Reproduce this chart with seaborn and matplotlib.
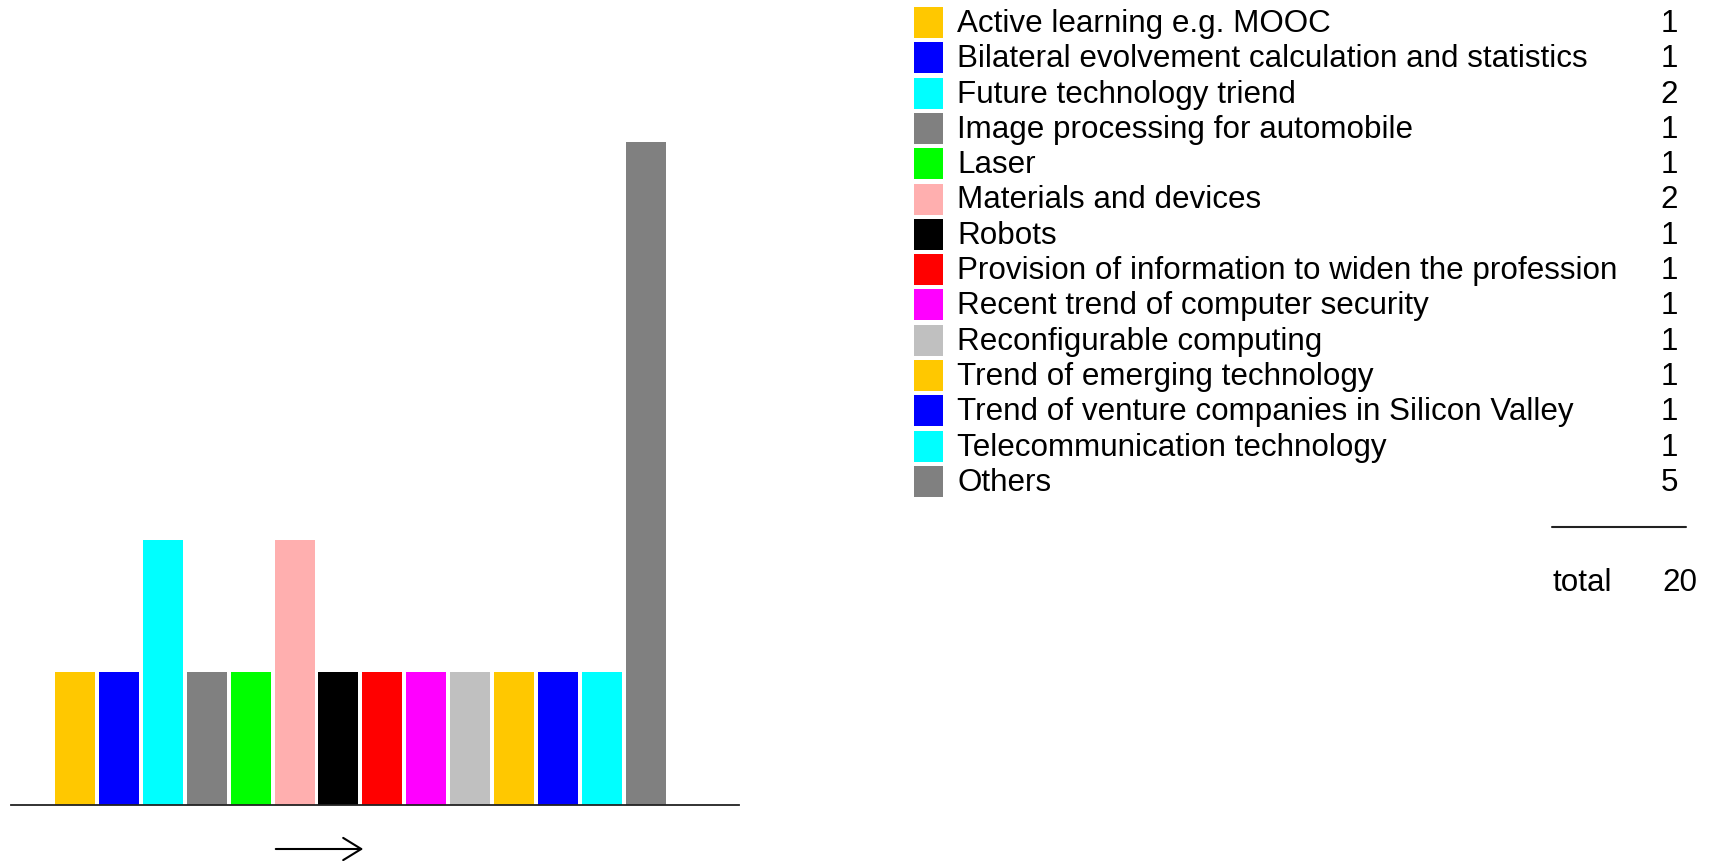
import matplotlib
matplotlib.use("Agg")
import matplotlib.pyplot as plt
from matplotlib.patches import Rectangle, FancyArrowPatch
import seaborn as sns
import pandas as pd

# Topics and how many times each one was chosen
topics = [
    "Active learning e.g. MOOC",
    "Bilateral evolvement calculation and statistics",
    "Future technology triend",
    "Image processing for automobile",
    "Laser",
    "Materials and devices",
    "Robots",
    "Provision of information to widen the profession",
    "Recent trend of computer security",
    "Reconfigurable computing",
    "Trend of emerging technology",
    "Trend of venture companies in Silicon Valley",
    "Telecommunication technology",
    "Others",
]
counts = [1, 1, 2, 1, 1, 2, 1, 1, 1, 1, 1, 1, 1, 5]
colors = [
    "#FFC800", "#0000FF", "#00FFFF", "#808080", "#00FF00", "#FFAFAF", "#000000",
    "#FF0000", "#FF00FF", "#C0C0C0", "#FFC800", "#0000FF", "#00FFFF", "#808080",
]
total_label = "total"

sns.set_theme(style="white")
plt.rcParams["font.family"] = ["Liberation Sans", "DejaVu Sans"]

W, H, DPI = 1710, 861, 100
fig = plt.figure(figsize=(W / DPI, H / DPI), dpi=DPI)
fig.patch.set_facecolor("white")

df = pd.DataFrame({"topic": topics, "count": counts})

# Bar chart area (left side)
ax = fig.add_axes([11 / W, 56 / H, 728 / W, 729 / H])
sns.barplot(data=df, x="topic", y="count", hue="topic", palette=colors,
            order=topics, hue_order=topics, dodge=False, legend=False,
            width=0.91, saturation=1, linewidth=0, ax=ax)
ax.set_xlim(-1.449, 15.11)
ax.set_ylim(0, 5.5)
ax.set_xticks([])
ax.set_yticks([])
ax.set_xlabel("")
ax.set_ylabel("")
for side in ["top", "left", "right"]:
    ax.spines[side].set_visible(False)
ax.spines["bottom"].set_color("#222222")
ax.spines["bottom"].set_linewidth(1.3)
ax.patch.set_alpha(0)

# Direction arrow under the bars
fig.add_artist(FancyArrowPatch(
    (273, H - 849), (366, H - 849), transform=None,
    arrowstyle="->,head_length=13,head_width=8", color="black",
    linewidth=1.5, mutation_scale=1))

# Legend table (right side), laid out in pixel units
lg = fig.add_axes([0, 0, 1, 1])
lg.set_xlim(0, W)
lg.set_ylim(H, 0)
lg.axis("off")
lg.patch.set_alpha(0)

row0, pitch = 22.5, 35.3
fs = 22.6
dy = 1.5
for i, (name, n, c) in enumerate(zip(topics, counts, colors)):
    y = row0 + i * pitch
    lg.add_patch(Rectangle((914, y - 15.5), 29, 31, facecolor=c, edgecolor="none"))
    lg.text(957, y + dy, name, fontsize=fs, va="center", ha="left", color="black")
    lg.text(1678, y + dy, str(n), fontsize=fs, va="center", ha="right", color="black")

lg.plot([1552, 1686], [527, 527], color="#222222", linewidth=1.5)
lg.text(1552, 583, total_label, fontsize=fs, va="center", ha="left", color="black")
lg.text(1697, 583, str(sum(counts)), fontsize=fs, va="center", ha="right", color="black")

fig.savefig("out.png", dpi=DPI, facecolor="white")
